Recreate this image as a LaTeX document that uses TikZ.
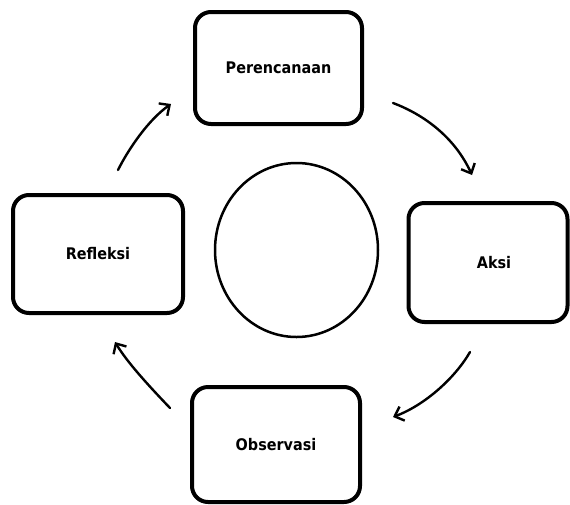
\documentclass[tikz,border=0pt]{standalone}
\usepackage{fontspec}
\setmainfont{DejaVu Sans Condensed}
\usetikzlibrary{arrows.meta}
\tikzset{
  stagebox/.style={draw=black, line width=4pt, rounded corners=16pt, fill=white, font=\bfseries\fontsize{16}{19}\selectfont, inner sep=0pt},
  cyclearrow/.style={draw=black, line width=2.4pt, line cap=round, -{Straight Barb[length=8pt,width=15pt,line width=2.4pt]}},
  hub/.style={draw=black, line width=2.5pt, ellipse, inner sep=0pt}
}
\begin{document}
\begin{tikzpicture}[x=1pt, y=-1pt]
\useasboundingbox (0,0) rectangle (570,504);
\node[stagebox, minimum width=167pt, minimum height=112pt] (per) at (278.5,68) {Perencanaan};
\node[stagebox, minimum width=170pt, minimum height=118pt] (ref) at (98,254) {Refleksi};
\node[stagebox, minimum width=159pt, minimum height=119pt] (aks) at (488,262.5) {\hspace*{12pt}Aksi};
\node[stagebox, minimum width=168pt, minimum height=115pt] (obs) at (276,444.5) {Observasi};
\draw[line width=2.5pt] (296.5,250) ellipse [x radius=81.5, y radius=87];
\coordinate (a1s) at (393,103);
\coordinate (a1e) at (472,175);
\coordinate (a2s) at (470,352);
\coordinate (a2e) at (393,417);
\coordinate (a3s) at (170,408);
\coordinate (a3e) at (115,342);
\coordinate (a4s) at (118,170);
\coordinate (a4e) at (171,104);
\draw[cyclearrow] (a1s) .. controls (425,115) and (455,138) .. (a1e);
\draw[cyclearrow] (a2s) .. controls (455,378) and (425,405) .. (a2e);
\draw[cyclearrow] (a3s) .. controls (148,385) and (127,362) .. (a3e);
\draw[cyclearrow] (a4s) .. controls (128,150) and (148,120) .. (a4e);
\end{tikzpicture}
\end{document}
